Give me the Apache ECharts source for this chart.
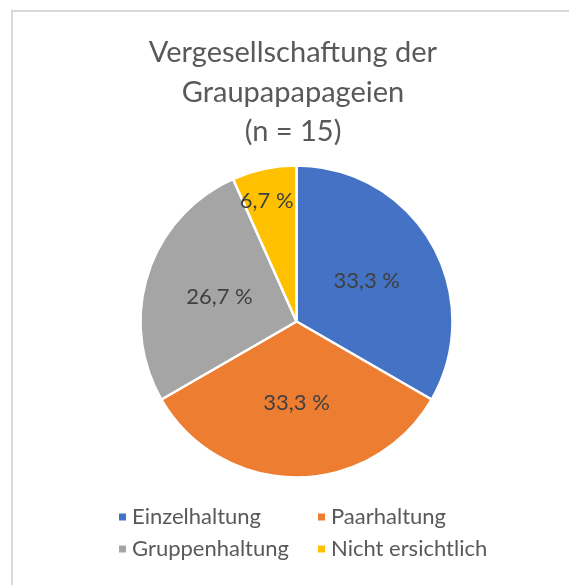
<!DOCTYPE html>
<html>
<head>
<meta charset="utf-8">
<script src="https://cdn.jsdelivr.net/npm/echarts@6/dist/echarts.min.js"></script>
<style>
html, body { margin: 0; padding: 0; background: #fff; }
#frame { position: absolute; left: 11px; top: 10px; width: 600px; height: 600px; border: 2px solid #d9d9d9; box-sizing: border-box; }
#main { position: absolute; left: 0; top: 0; width: 569px; height: 585px; }
</style>
</head>
<body>
<div id="frame"></div>
<div id="main"></div>
<script>
// Vergesellschaftung der Graupapageien
var categories = ['Einzelhaltung', 'Paarhaltung', 'Gruppenhaltung', 'Nicht ersichtlich'];
var counts = [5, 5, 4, 1];
var colors = ['#4472C4', '#ED7D31', '#A5A5A5', '#FFC000'];

var total = counts.reduce(function (a, b) { return a + b; }, 0);
var pieData = [];
for (var i = 0; i < categories.length; i++) {
    var item = { name: categories[i], value: counts[i] };
    if (i === 3) {
        item.label = { offset: [-13, -41] };  // kleines Segment: Beschriftung weiter außen
    }
    pieData.push(item);
}

var chartDom = document.getElementById('main');
var myChart = echarts.init(chartDom);
var option;
option = {
    color: colors,
    title: {
        text: 'Vergesellschaftung der\nGraupapapageien\n(n = 15)',
        left: 288,
        textAlign: 'center',
        top: 28,
        textStyle: {
            color: '#595959',
            fontSize: 29,
            fontWeight: 'normal',
            fontFamily: 'Lato',
            lineHeight: 39.5
        }
    },
    legend: [
        {
            orient: 'vertical',
            left: 112,
            top: 501,
            itemWidth: 9,
            itemHeight: 9,
            itemGap: 10,
            icon: 'rect',
            data: [categories[0], categories[2]],
            textStyle: { color: '#595959', fontSize: 22, fontFamily: 'Lato' }
        },
        {
            orient: 'vertical',
            left: 311,
            top: 501,
            itemWidth: 9,
            itemHeight: 9,
            itemGap: 10,
            icon: 'rect',
            data: [categories[1], categories[3]],
            textStyle: { color: '#595959', fontSize: 22, fontFamily: 'Lato' }
        }
    ],
    series: [
        {
            name: 'Vergesellschaftung',
            type: 'pie',
            radius: 156,
            center: [296.5, 321.5],
            startAngle: 90,
            clockwise: true,
            data: pieData,
            itemStyle: {
                borderColor: '#ffffff',
                borderWidth: 2.5
            },
            label: {
                show: true,
                position: 'inside',
                color: '#404040',
                fontSize: 22,
                fontFamily: 'Lato',
                formatter: function (p) {
                    return (p.value / total * 100).toFixed(1).replace('.', ',') + ' %';
                }
            },
            labelLine: { show: false },
            emphasis: { disabled: true }
        }
    ]
};
option && myChart.setOption(option);
</script>
</body>
</html>
